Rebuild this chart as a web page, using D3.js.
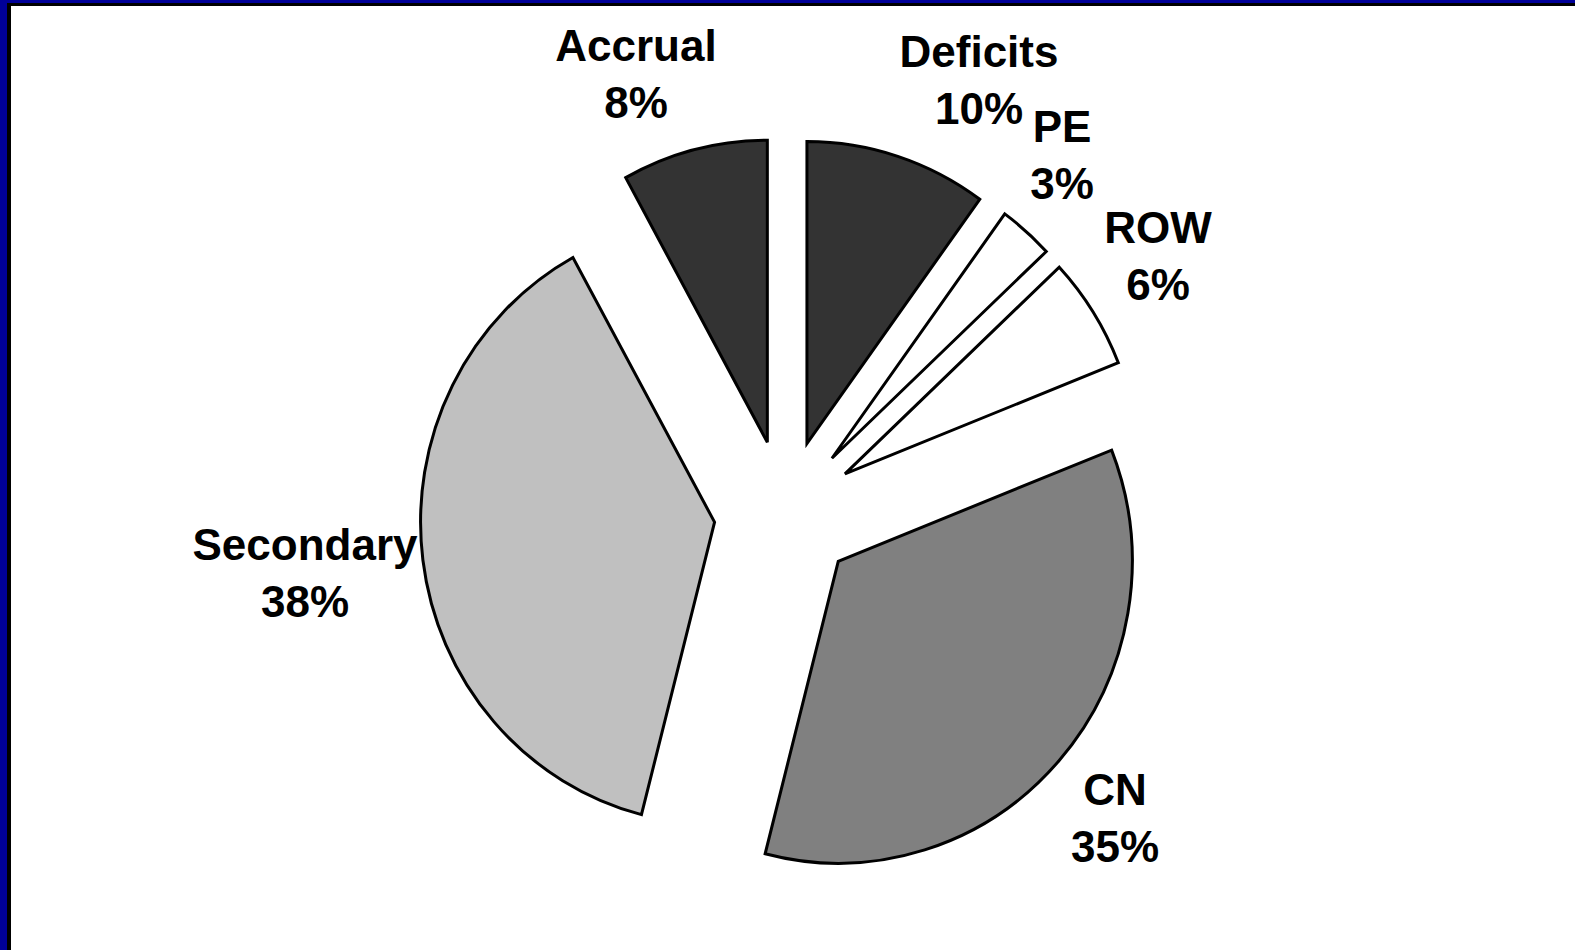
<!DOCTYPE html>
<html><head><meta charset="utf-8">
<script src="https://cdn.jsdelivr.net/npm/d3@7"></script>
<style>html,body{margin:0;padding:0;background:#fff;overflow:hidden}</style>
</head><body>
<svg id="chart" width="1575" height="950"></svg>
<script>
// ---- data ----
const categories = ["Deficits", "PE", "ROW", "CN", "Secondary", "Accrual"];
const values = [10, 3, 6, 35, 38, 8];
const valueLabels = ["10%", "3%", "6%", "35%", "38%", "8%"];

// ---- styles / layout ----
const fills = ["#333333", "#ffffff", "#ffffff", "#808080", "#c0c0c0", "#333333"];
const W = 1575, H = 950;
const cx = 785, cy = 513;
const rx = 294, ry = 302;          // pie is slightly taller than wide
const explodeX = 71, explodeY = 73;
// first-line baseline for each label (text centre x, baseline y)
const labelAnchors = [[979, 67], [1062, 142], [1158, 243], [1115, 805], [305, 560], [636, 61]];
const lineGap = 57;

const svg = d3.select("#chart");
svg.append("rect").attr("width", W).attr("height", H).attr("fill", "#fff");
// frame
svg.append("rect").attr("x", 0).attr("y", 0).attr("width", W).attr("height", 6).attr("fill", "#000");
svg.append("rect").attr("x", 0).attr("y", 0).attr("width", 11).attr("height", H).attr("fill", "#000");
svg.append("rect").attr("x", 0).attr("y", 0).attr("width", W).attr("height", 3).attr("fill", "#000099");
svg.append("rect").attr("x", 0).attr("y", 0).attr("width", 7).attr("height", H).attr("fill", "#000099");

const data = categories.map((c, i) => ({ name: c, value: values[i], label: valueLabels[i], i }));
const pie = d3.pie().sort(null).value(d => d.value).startAngle(0).endAngle(2 * Math.PI);
const arc = d3.arc().innerRadius(0).outerRadius(rx);
const color = d3.scaleOrdinal().domain(categories).range(fills);

const g = svg.append("g").attr("transform", `translate(${cx},${cy})`);
g.selectAll("path.slice")
  .data(pie(data))
  .join("path")
  .attr("class", "slice")
  .attr("transform", d => {
    const a = (d.startAngle + d.endAngle) / 2;
    return `translate(${explodeX * Math.sin(a)},${-explodeY * Math.cos(a)}) scale(1,${ry / rx})`;
  })
  .attr("d", arc)
  .attr("fill", d => color(d.data.name))
  .attr("stroke", "#000")
  .attr("stroke-width", 3)
  .attr("vector-effect", "non-scaling-stroke")
  .attr("stroke-linejoin", "miter");

const labels = svg.append("g")
  .attr("font-family", "'Liberation Sans', Arial, sans-serif")
  .attr("font-weight", "bold")
  .attr("font-size", 44)
  .attr("fill", "#000")
  .attr("text-anchor", "middle");

data.forEach((d, i) => {
  const [x, y] = labelAnchors[i];
  const t = labels.append("text").attr("x", x).attr("y", y);
  t.append("tspan").attr("x", x).attr("y", y).text(d.name);
  t.append("tspan").attr("x", x).attr("y", y + lineGap).text(d.label);
});
</script>
</body></html>
